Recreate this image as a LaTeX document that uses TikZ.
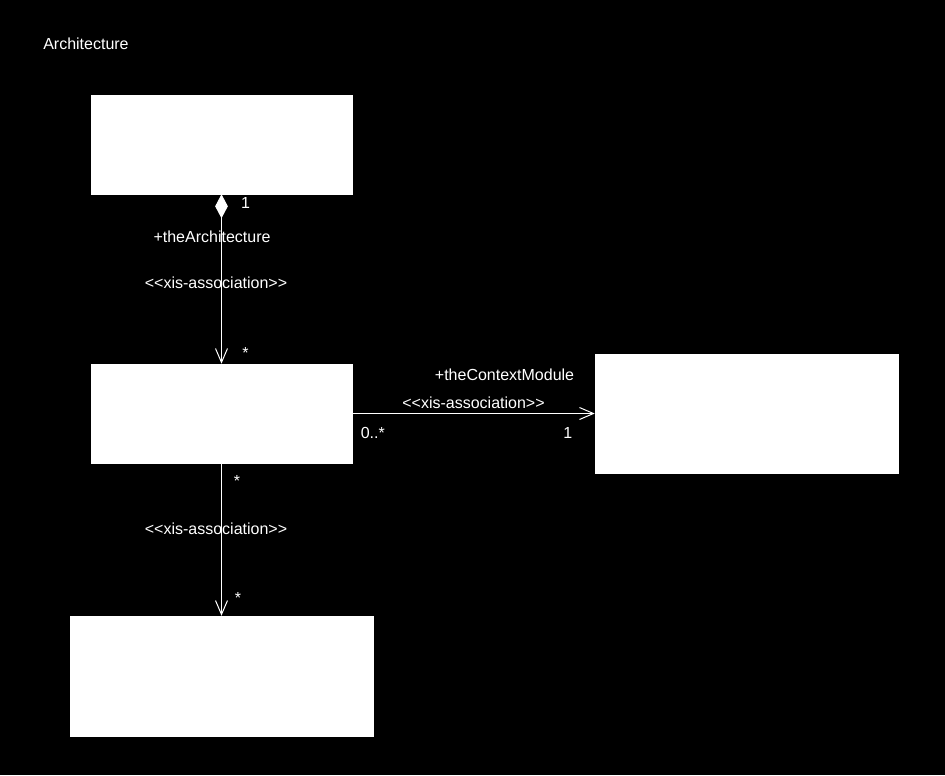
\documentclass[tikz,border=0pt]{standalone}
\usepackage{fontspec}
\setmainfont{Liberation Sans}
\usetikzlibrary{arrows.meta,positioning}

\begin{document}
\begin{tikzpicture}[
  x=0.75pt, y=0.75pt,
  box/.style={rectangle, draw=white, fill=white, inner sep=0pt},
  lbl/.style={text=white, font=\fontsize{12}{14}\selectfont, inner sep=0pt},
  assoc/.style={draw=white, line width=0.75pt},
  font=\fontsize{12}{14}\selectfont
]
\useasboundingbox[fill=black] (0,0) rectangle (945,-775);

\node[lbl, anchor=west] (title) at (43,-44) {Architecture};

\node[box, minimum width=195.75pt, minimum height=74.25pt] (arch) at (221.5,-144.5) {};
\node[box, minimum width=195.75pt, minimum height=74.25pt, below of=arch, node distance=201.75pt] (elem) {};
\node[box, minimum width=227.25pt, minimum height=89.25pt, right of=elem, node distance=393.75pt] (ctx) {};
\node[box, minimum width=227.25pt, minimum height=90pt, below of=elem, node distance=196.9pt] (part) {};

% Associations
\draw[assoc, {Diamond[length=18pt,width=9.5pt,fill=white]}-{Straight Barb[length=10.5pt,width=9pt]}] (arch) -- (elem)
  node[lbl, pos=0.053, xshift=18pt] (archone) {1}
  node[lbl, pos=0.253, xshift=-7.1pt] (archrole) {+theArchitecture}
  node[lbl, pos=0.524, xshift=-4.1pt] (archst) {<{}<xis-association>{}>}
  node[lbl, pos=0.938, xshift=18pt] (archmany) {*};
\draw[assoc, -{Straight Barb[length=10.5pt,width=9pt]}] (elem) -- (ctx)
  node[lbl, pos=0.628, yshift=28.9pt] (ctxrole) {+theContextModule}
  node[lbl, pos=0.5, yshift=7.9pt] (ctxst) {<{}<xis-association>{}>}
  node[lbl, pos=0.033, yshift=-14.6pt, anchor=west] (ctxmany) {0..*}
  node[lbl, pos=0.889, yshift=-14.6pt] (ctxone) {1};
\draw[assoc, -{Straight Barb[length=10.5pt,width=9pt]}] (elem) -- (part)
  node[lbl, pos=0.118, xshift=11.6pt] (partsrc) {*}
  node[lbl, pos=0.431, xshift=-4.1pt] (partst) {<{}<xis-association>{}>}
  node[lbl, pos=0.882, xshift=12.4pt] (partdst) {*};
\end{tikzpicture}
\end{document}
